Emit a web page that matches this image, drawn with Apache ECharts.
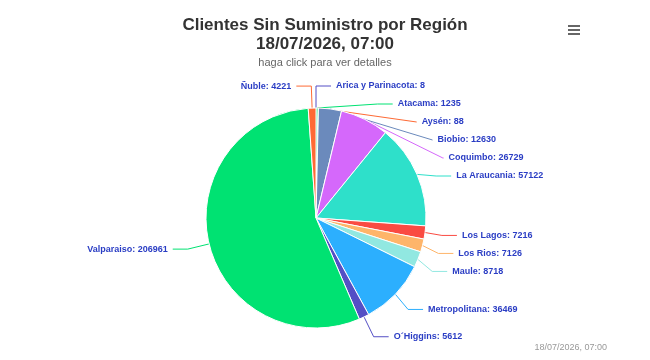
<!DOCTYPE html>
<html lang="es">
<head>
    <meta charset="UTF-8">
    <title>Clientes Sin Suministro por Región</title>
    <script src="https://cdn.jsdelivr.net/npm/echarts@6/dist/echarts.min.js"></script>
    <style>
        html, body { margin: 0; padding: 0; background: #fff; }
    </style>
</head>
<body>
<div class="main" style="width: 650px;height:360px;"></div>
</body>
<script>
    // datos
    let regiones = ['Arica y Parinacota', 'Atacama', 'Aysén', 'Biobio', 'Coquimbo', 'La Araucania',
        'Los Lagos', 'Los Rios', 'Maule', 'Metropolitana', 'O´Higgins', 'Valparaiso', 'Ñuble'];
    let clientes = [8, 1235, 88, 12630, 26729, 57122, 7216, 7126, 8718, 36469, 5612, 206961, 4221];
    let fecha = '18/07/2026, 07:00';

    let colores = ['#544fc5', '#00e272', '#fe6a35', '#6b8abc', '#d568fb', '#2ee0ca', '#fa4b42',
        '#feb56a', '#91e8e1', '#2caffe', '#544fc5', '#00e272', '#fe6a35'];

    let myChart = echarts.init(document.querySelector('.main'));

    let data = regiones.map((r, i) => ({name: r, value: clientes[i]}));

    let option = {
        backgroundColor: '#fff',
        color: colores,
        title: [{
            text: 'Clientes Sin Suministro por Región\n' + fecha,
            subtext: 'haga click para ver detalles',
            left: 'center',
            top: 11,
            itemGap: 3,
            textStyle: {
                fontFamily: 'Liberation Sans, Arial',
                fontSize: 17,
                fontWeight: 'bold',
                color: '#333',
                lineHeight: 19
            },
            subtextStyle: {
                fontFamily: 'Liberation Sans, Arial',
                fontSize: 11,
                color: '#666'
            }
        }, {
            text: fecha,
            right: 38,
            bottom: 3,
            textStyle: {
                fontFamily: 'Liberation Sans, Arial',
                fontSize: 9,
                fontWeight: 'normal',
                color: '#999'
            }
        }],
        graphic: [
            {type: 'rect', right: 70, top: 25, shape: {width: 12, height: 2}, style: {fill: '#666'}},
            {type: 'rect', right: 70, top: 29, shape: {width: 12, height: 2}, style: {fill: '#666'}},
            {type: 'rect', right: 70, top: 33, shape: {width: 12, height: 2}, style: {fill: '#666'}}
        ],
        series: [{
            type: 'pie',
            center: [316, 218],
            radius: 110,
            startAngle: 90,
            clockwise: true,
            data: data,
            itemStyle: {
                borderColor: '#fff',
                borderWidth: 1
            },
            label: {
                formatter: '{b}: {c}',
                fontFamily: 'Liberation Sans, Arial',
                fontSize: 9,
                fontWeight: 'bold',
                color: '#2a3dc4',
                lineHeight: 12,
                padding: [2, 0, 2, 0]
            },
            labelLine: {
                length: 22,
                length2: 15,
                lineStyle: {width: 1}
            }
        }]
    };
    myChart.setOption(option);
</script>
</html>
